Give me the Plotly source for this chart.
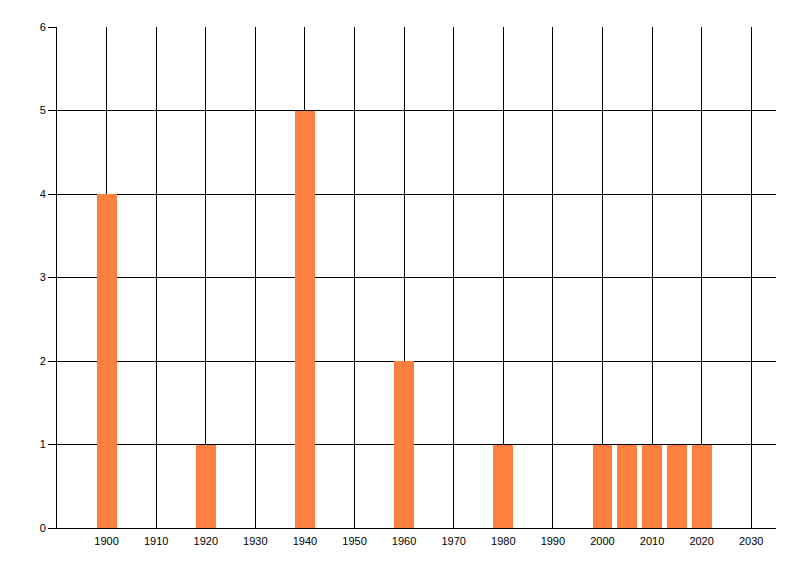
import plotly.graph_objects as go

# years and counts
years = [1900, 1920, 1940, 1960, 1980, 2000, 2005, 2010, 2015, 2020]
counts = [4, 1, 5, 2, 1, 1, 1, 1, 1, 1]
x_ticks = list(range(1900, 2031, 10))
y_ticks = [0, 1, 2, 3, 4, 5, 6]

fig = go.Figure()
fig.add_trace(go.Bar(
    x=years,
    y=counts,
    width=4,
    marker=dict(color='rgb(255,127,63)', line=dict(width=0)),
))

# page has an 8px body margin, so the figure is a bit smaller than the window
fig.update_layout(
    width=792,
    height=568,
    margin=dict(l=49, r=24, t=19, b=48),
    paper_bgcolor='white',
    plot_bgcolor='white',
    showlegend=False,
    font=dict(family='Liberation Sans', size=11, color='black'),
    bargap=0,
)
fig.update_xaxes(
    range=[1890, 2035],
    tickvals=x_ticks,
    ticktext=[str(t) for t in x_ticks],
    showgrid=True,
    gridcolor='black',
    gridwidth=1,
    showline=True,
    linecolor='black',
    linewidth=1,
    ticks='',
    ticklabelstandoff=3,
    zeroline=False,
    tickfont=dict(size=11),
)
fig.update_yaxes(
    range=[0, 6],
    tickvals=y_ticks,
    showgrid=True,
    gridcolor='black',
    gridwidth=1,
    showline=True,
    linecolor='black',
    linewidth=1,
    ticks='outside',
    ticklen=8,
    tickcolor='black',
    zeroline=False,
    tickfont=dict(size=11),
)

fig.write_html("out.html")
